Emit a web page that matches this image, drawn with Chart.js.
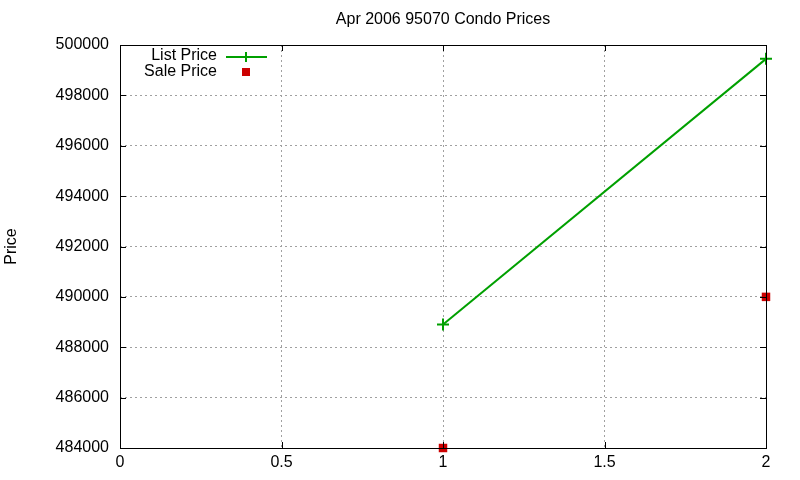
<!DOCTYPE html>
<html>
<head>
<meta charset="utf-8">
<script src="https://cdn.jsdelivr.net/npm/chart.js@4/dist/chart.umd.min.js"></script>
<style>
  html, body { margin: 0; padding: 0; background: #fff; }
  #wrap { width: 800px; height: 480px; }
</style>
</head>
<body>
<div id="wrap"><canvas id="priceChart"></canvas></div>
<script>
const chartTitle = "Apr 2006 95070 Condo Prices";
const xValues = [1, 2];
const listPrices = [488900, 499450];
const salePrices = [484000, 490000];
const seriesNames = ["List Price", "Sale Price"];

const FONT = "'Liberation Sans', Arial, sans-serif";
const FSIZE = 16;
const GREEN = "#00a000";
const RED = "#cc0000";

// gnuplot-style title, frame, inward ticks and key drawn on top
const framePlugin = {
  id: "frame",
  afterDraw(chart) {
    const { ctx, chartArea: a, scales } = chart;
    ctx.save();

    ctx.font = FSIZE + "px " + FONT;
    ctx.fillStyle = "#000";
    ctx.textAlign = "center";
    ctx.textBaseline = "middle";
    ctx.fillText(chartTitle, (a.left + a.right) / 2, 20);

    ctx.strokeStyle = "#000";
    ctx.lineWidth = 1;
    ctx.strokeRect(a.left + 0.5, a.top + 0.5, a.right - a.left, a.bottom - a.top);

    ctx.beginPath();
    scales.x.ticks.forEach(t => {
      const px = Math.round(scales.x.getPixelForValue(t.value)) + 0.5;
      ctx.moveTo(px, a.bottom); ctx.lineTo(px, a.bottom - 6);
      ctx.moveTo(px, a.top); ctx.lineTo(px, a.top + 6);
    });
    scales.y.ticks.forEach(t => {
      const py = Math.round(scales.y.getPixelForValue(t.value)) + 0.5;
      ctx.moveTo(a.left, py); ctx.lineTo(a.left + 6, py);
      ctx.moveTo(a.right, py); ctx.lineTo(a.right - 6, py);
    });
    ctx.stroke();

    // key
    ctx.textAlign = "right";
    const textRight = a.left + 97;
    const sampleX = a.left + 126;
    ctx.fillText(seriesNames[0], textRight, a.top + 11);
    ctx.fillText(seriesNames[1], textRight, a.top + 27);

    ctx.strokeStyle = GREEN;
    ctx.lineWidth = 2;
    ctx.beginPath();
    ctx.moveTo(sampleX - 20, a.top + 12);
    ctx.lineTo(sampleX + 21, a.top + 12);
    ctx.moveTo(sampleX, a.top + 7);
    ctx.lineTo(sampleX, a.top + 17);
    ctx.stroke();

    ctx.fillStyle = RED;
    ctx.fillRect(sampleX - 4, a.top + 23, 8, 8);
    ctx.restore();
  }
};

new Chart(document.getElementById("priceChart"), {
  type: "scatter",
  data: {
    datasets: [
      {
        label: seriesNames[0],
        data: xValues.map((x, i) => ({ x, y: listPrices[i] })),
        showLine: true,
        borderColor: GREEN,
        backgroundColor: GREEN,
        borderWidth: 2,
        pointStyle: "cross",
        pointRadius: 6,
        pointBorderWidth: 2,
        clip: false
      },
      {
        label: seriesNames[1],
        data: xValues.map((x, i) => ({ x, y: salePrices[i] })),
        showLine: false,
        borderColor: RED,
        backgroundColor: RED,
        pointStyle: "rect",
        pointRadius: 6,
        pointBorderWidth: 0,
        clip: false
      }
    ]
  },
  options: {
    responsive: true,
    maintainAspectRatio: false,
    animation: false,
    layout: { padding: { top: 45, right: 34, bottom: 0, left: 0 } },
    plugins: {
      legend: { display: false },
      tooltip: { enabled: false },
      title: { display: false }
    },
    scales: {
      x: {
        type: "linear",
        min: 0,
        max: 2,
        ticks: {
          stepSize: 0.5,
          color: "#000",
          padding: 5,
          maxRotation: 0,
          font: { family: FONT, size: FSIZE },
          callback: v => String(v)
        },
        grid: { color: "#a0a0a0", drawTicks: false },
        border: { display: false, dash: [2, 3] },
        afterFit(scale) { scale.height = 32; }
      },
      y: {
        min: 484000,
        max: 500000,
        ticks: {
          stepSize: 2000,
          color: "#000",
          padding: 11,
          font: { family: FONT, size: FSIZE },
          callback: v => String(v)
        },
        grid: { color: "#a0a0a0", drawTicks: false },
        border: { display: false, dash: [2, 3] },
        title: {
          display: true,
          text: "Price",
          color: "#000",
          font: { family: FONT, size: FSIZE },
          padding: { top: 2, bottom: 0 }
        },
        afterFit(scale) { scale.width = 120; }
      }
    }
  },
  plugins: [framePlugin]
});
</script>
</body>
</html>
